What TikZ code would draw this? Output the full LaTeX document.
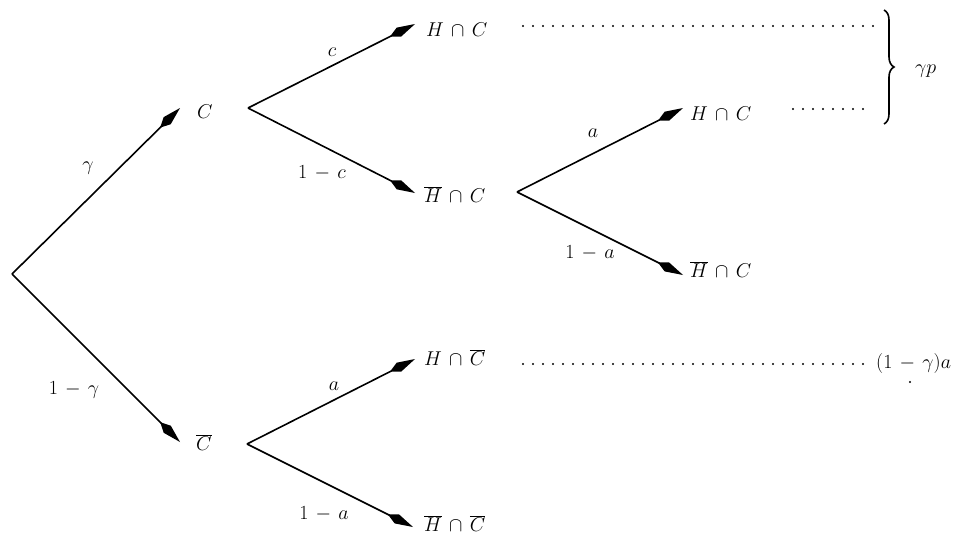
\RequirePackage{fix-cm}
\documentclass[tikz,border=0pt]{standalone}
\usetikzlibrary{arrows.meta,decorations.pathreplacing}
\medmuskip=6.5mu\relax
\begin{document}
\begin{tikzpicture}[x=1pt,y=-1pt,
  branch/.style={line width=1.6pt, -{Kite[length=28pt,width=10pt,inset=10pt]}},
  txt/.style={inner sep=0pt, anchor=base west, font=\fontsize{20}{23}\selectfont},
  lab/.style={inner sep=0pt, font=\fontsize{20}{23}\selectfont},
  dotrow/.style={line width=2.2pt, line cap=round, dash pattern=on 0pt off 10pt},
]
\useasboundingbox (0,0) rectangle (965,536);

% vertices and arrow tips
\coordinate (root) at (12,274);
\coordinate (tC) at (180,108);
\coordinate (tCb) at (180,442);
\coordinate (vC) at (248,108);
\coordinate (tHC) at (415,24);
\coordinate (tHbC) at (415,193);
\coordinate (vHbC) at (517,192);
\coordinate (tHC2) at (683,108);
\coordinate (tHbC2) at (683,275);
\coordinate (vCb) at (247,444);
\coordinate (tHCb) at (415,359);
\coordinate (tHbCb) at (413,527);

% outcome texts
\node[txt] (C) at (197,118) {$C$};
\node[txt] (Cb) at (196,450) {$\overline{C}$};
\node[txt] (HC) at (426,36) {$H\cap C$};
\node[txt] (HbC) at (424,202) {$\overline{H}\cap C$};
\node[txt] (HC2) at (690,120) {$H\cap C$};
\node[txt] (HbC2) at (690,277) {$\overline{H}\cap C$};
\node[txt] (HCb) at (424,365) {$H\cap \overline{C}$};
\node[txt] (HbCb) at (424,531) {$\overline{H}\cap \overline{C}$};
\node[txt] (gp) at (915,73) {$\gamma p$};
\node[txt] (ga) at (876,368) {$(1-\gamma)a$};

% branches
\draw[branch] (root) -- (tC);
\draw[branch] (root) -- (tCb);
\draw[branch] (vC) -- (tHC);
\draw[branch] (vC) -- (tHbC);
\draw[branch] (vHbC) -- (tHC2);
\draw[branch] (vHbC) -- (tHbC2);
\draw[branch] (vCb) -- (tHCb);
\draw[branch] (vCb) -- (tHbCb);

% branch labels
\node[lab] (lg) at (88,168) {$\gamma$};
\node[lab] (l1g) at (74,390) {$1-\gamma$};
\node[lab] (lc) at (332,52) {$c$};
\node[lab] (l1c) at (322,173) {$1-c$};
\node[lab] (la) at (593,133) {$a$};
\node[lab] (l1a) at (590,253) {$1-a$};
\node[lab] (lab) at (334,386) {$a$};
\node[lab] (l1ab) at (324,514) {$1-a$};

% dotted leaders
\coordinate (d1s) at (523,26);
\coordinate (d1e) at (877,26);
\coordinate (d2s) at (793,109);
\coordinate (d2e) at (872,109);
\coordinate (d3s) at (523,364);
\coordinate (d3e) at (868,364);
\draw[dotrow] (d1s) -- (d1e);
\draw[dotrow] (d2s) -- (d2e);
\draw[dotrow] (d3s) -- (d3e);

% brace
\coordinate (bt) at (884,10);
\coordinate (bb) at (884,124);
\draw[line width=1.6pt, decorate, decoration={brace, amplitude=10pt}] (bt) -- (bb);

% stray dot
\fill (910,382) circle (1.1pt);
\end{tikzpicture}
\end{document}
